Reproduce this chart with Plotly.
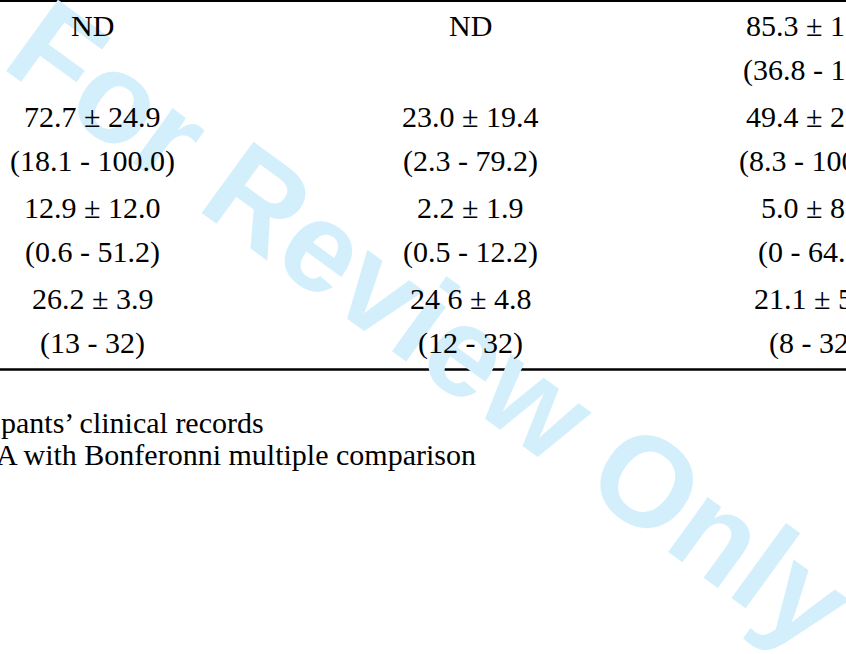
import plotly.graph_objects as go

# ---- data (table cells) ----
col1_mean = ["ND", "72.7 ± 24.9", "12.9 ± 12.0", "26.2 ± 3.9"]
col1_range = ["", "(18.1 - 100.0)", "(0.6 - 51.2)", "(13 - 32)"]
col2_mean = ["ND", "23.0 ± 19.4", "2.2 ± 1.9", "24 6 ± 4.8"]
col2_range = ["", "(2.3 - 79.2)", "(0.5 - 12.2)", "(12 - 32)"]
col3_mean = ["85.3 ± 17.6", "49.4 ± 28.1", "5.0 ± 8.3", "21.1 ± 5.6"]
col3_range = ["(36.8 - 100)", "(8.3 - 100.0)", "(0 - 64.5)", "(8 - 32)"]
footnotes = ["pants’ clinical records", "A with Bonferonni multiple comparison"]
watermark = "For Review Only"

columns = [(col1_mean, col1_range), (col2_mean, col2_range), (col3_mean, col3_range)]

# ---- layout constants ----
W, H = 846, 654
col_x = [92, 470, 814]
row_y0, row_step, line_gap = 25, 91.3, 44.5
foot_shift = [-1, -6]
foot_y = [422, 454]
serif = "Liberation Serif, Times New Roman, serif"
fs = 30

fig = go.Figure()
fig.add_trace(go.Scatter(x=[0, W], y=[0, H], mode="markers",
                         marker=dict(opacity=0), hoverinfo="skip", showlegend=False))

# watermark first (drawn under the table text)
fig.add_annotation(x=431, y=324, xref="x", yref="y", text=watermark, showarrow=False,
                   textangle=36, font=dict(family="Liberation Sans, Arial, sans-serif",
                                           size=128, color="rgb(212,239,252)", weight="bold"),
                   xanchor="center", yanchor="middle")

for ci, (means, ranges) in enumerate(columns):
    for ri, (m, r) in enumerate(zip(means, ranges)):
        y = row_y0 + row_step * ri
        if m:
            fig.add_annotation(x=col_x[ci], y=y, xref="x", yref="y", text=m, showarrow=False,
                               font=dict(family=serif, size=fs, color="black"),
                               xanchor="center", yanchor="middle")
        if r:
            fig.add_annotation(x=col_x[ci], y=y + line_gap, xref="x", yref="y", text=r,
                               showarrow=False, font=dict(family=serif, size=fs, color="black"),
                               xanchor="center", yanchor="middle")

for sh, fy, t in zip(foot_shift, foot_y, footnotes):
    fig.add_annotation(x=0, y=fy, xref="x", yref="y", xshift=sh, text=t, showarrow=False,
                       font=dict(family=serif, size=fs, color="black"),
                       xanchor="left", yanchor="middle")

# horizontal rules
fig.add_shape(type="line", xref="x", yref="y", x0=0, x1=W, y0=1, y1=1,
              line=dict(color="black", width=2.2))
fig.add_shape(type="line", xref="x", yref="y", x0=0, x1=W, y0=369.5, y1=369.5,
              line=dict(color="black", width=2.4))

fig.update_xaxes(range=[0, W], visible=False, fixedrange=True)
fig.update_yaxes(range=[H, 0], visible=False, fixedrange=True)
fig.update_layout(width=W, height=H, margin=dict(l=0, r=0, t=0, b=0),
                  paper_bgcolor="white", plot_bgcolor="white", showlegend=False)

fig.write_html("out.html", config={"displayModeBar": False},
               post_script="document.body.style.margin='0';document.body.style.overflow='hidden';")
